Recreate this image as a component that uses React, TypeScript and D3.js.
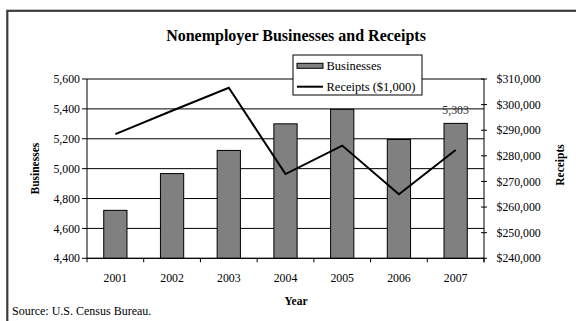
import React from "react";
import * as d3 from "d3";

const years = ["2001", "2002", "2003", "2004", "2005", "2006", "2007"];
const businesses = [4721, 4967, 5122, 5300, 5397, 5195, 5303];
const receipts = [288500, 297600, 306600, 272900, 284000, 265000, 282300];
const leftTicks = [4400, 4600, 4800, 5000, 5200, 5400, 5600];
const rightTicks = [240000, 250000, 260000, 270000, 280000, 290000, 300000, 310000];

const W = 576, H = 321;
const M = { left: 87, right: 484, top: 79, bottom: 258.3 };
const FONT = "'Liberation Serif', 'Times New Roman', serif";
const TICK_FS = 11.8;

export default function App() {
  const x = d3.scaleBand<string>().domain(years).range([M.left, M.right]).paddingInner(0).paddingOuter(0);
  const yL = d3.scaleLinear().domain([4400, 5600]).range([M.bottom, M.top]);
  const yR = d3.scaleLinear().domain([240000, 310000]).range([M.bottom, M.top]);
  const bw = x.bandwidth() * 0.41;
  const fmt = d3.format(",");
  const line = d3
    .line<number>()
    .x((_, i) => (x(years[i]) as number) + x.bandwidth() / 2)
    .y((d) => yR(d));
  const boundaries = years.map((y) => x(y) as number).concat([M.right]);

  return (
    <svg width={W} height={H} style={{ position: "absolute", left: 0, top: 0, background: "#fff" }} fontFamily={FONT}>
      <rect x={0} y={0} width={W} height={H} fill="#fff" />
      <rect x={7.3} y={10.8} width={700} height={500} fill="none" stroke="#3c3c3c" strokeWidth={2.2} />
      <text x={296} y={41} textAnchor="middle" fontSize={16} fontWeight="bold">
        Nonemployer Businesses and Receipts
      </text>
      {/* gridlines */}
      {leftTicks.map((t) => (
        <line key={"g" + t} x1={M.left} x2={M.right} y1={yL(t)} y2={yL(t)} stroke="#000" strokeWidth={1} />
      ))}
      {/* bars */}
      {years.map((yr, i) => {
        const cx = (x(yr) as number) + x.bandwidth() / 2;
        return (
          <rect
            key={yr}
            x={cx - bw / 2}
            y={yL(businesses[i])}
            width={bw}
            height={yL(4400) - yL(businesses[i])}
            fill="#808080"
            stroke="#000"
            strokeWidth={1}
          />
        );
      })}
      {/* axes */}
      <line x1={M.left} x2={M.left} y1={M.top} y2={M.bottom} stroke="#000" />
      <line x1={M.right} x2={M.right} y1={M.top} y2={M.bottom + 4} stroke="#000" />
      <line x1={M.left} x2={M.right} y1={M.bottom} y2={M.bottom} stroke="#000" />
      {leftTicks.map((t) => (
        <g key={"l" + t}>
          <line x1={M.left - 5} x2={M.left} y1={yL(t)} y2={yL(t)} stroke="#000" />
          <text x={M.left - 7} y={yL(t)} dy="0.35em" textAnchor="end" fontSize={TICK_FS}>
            {fmt(t)}
          </text>
        </g>
      ))}
      {rightTicks.map((t) => (
        <g key={"r" + t}>
          <line x1={M.right - 3} x2={M.right + 3} y1={yR(t)} y2={yR(t)} stroke="#000" />
          <text x={496.5} y={yR(t)} dy="0.35em" textAnchor="start" fontSize={TICK_FS}>
            {"$" + fmt(t)}
          </text>
        </g>
      ))}
      {boundaries.map((b, i) => (
        <line key={"b" + i} x1={b} x2={b} y1={M.bottom} y2={M.bottom + 4} stroke="#000" />
      ))}
      {years.map((yr) => (
        <text key={"t" + yr} x={(x(yr) as number) + x.bandwidth() / 2} y={281.5} textAnchor="middle" fontSize={TICK_FS}>
          {yr}
        </text>
      ))}
      {/* line */}
      <path d={line(receipts) || ""} fill="none" stroke="#000" strokeWidth={2} />
      {/* data label */}
      <text
        x={(x("2007") as number) + x.bandwidth() / 2}
        y={yL(businesses[6]) - 9}
        textAnchor="middle"
        fontSize={TICK_FS}
        fill="#333"
      >
        {fmt(businesses[6])}
      </text>
      {/* axis titles */}
      <text x={296} y={304.5} textAnchor="middle" fontSize={11.5} fontWeight="bold">
        Year
      </text>
      <text transform={`translate(39,${(M.top + M.bottom) / 2}) rotate(-90)`} textAnchor="middle" fontSize={11.5} fontWeight="bold">
        Businesses
      </text>
      <text transform={`translate(564,165) rotate(-90)`} textAnchor="middle" fontSize={11.5} fontWeight="bold">
        Receipts
      </text>
      <text x={12} y={315} fontSize={12}>
        Source: U.S. Census Bureau.
      </text>
      {/* legend */}
      <rect x={293} y={55} width={129} height={40} fill="#fff" stroke="#000" strokeWidth={1} />
      <rect x={297} y={63.3} width={26} height={5} fill="#808080" stroke="#000" strokeWidth={1} />
      <text x={326.5} y={65.8} dy="0.35em" fontSize={12.5}>
        Businesses
      </text>
      <line x1={297} x2={323} y1={86.7} y2={86.7} stroke="#000" strokeWidth={2} />
      <text x={326.5} y={86.5} dy="0.35em" fontSize={12.5}>
        Receipts ($1,000)
      </text>
    </svg>
  );
}
